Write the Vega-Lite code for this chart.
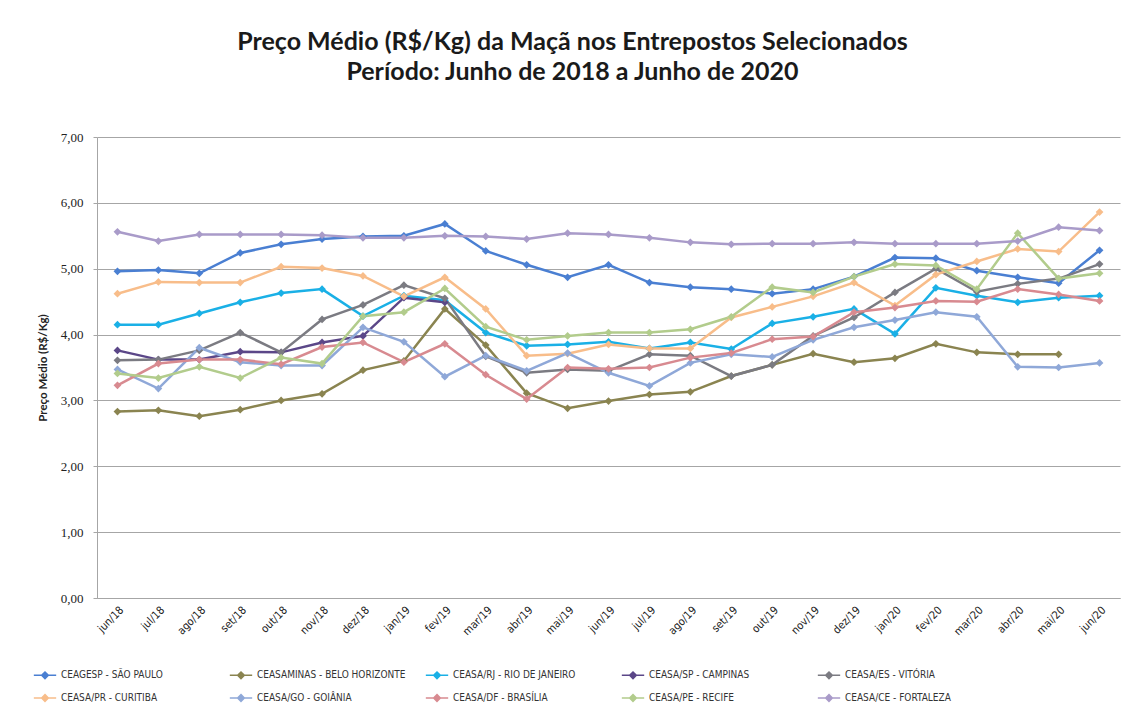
{
  "$schema": "https://vega.github.io/schema/vega-lite/v6.json",
  "width": 1023,
  "height": 461,
  "autosize": "none",
  "padding": {"left": 97, "top": 137, "right": 9, "bottom": 111},
  "background": "white",
  "title": {
    "text": ["Preço Médio (R$/Kg) da Maçã nos Entrepostos Selecionados", "Período: Junho de 2018 a Junho de 2020"],
    "font": "Lato",
    "fontSize": 25,
    "fontWeight": "bold",
    "color": "#1a1a1a",
    "lineHeight": 30,
    "anchor": "middle",
    "dx": -36,
    "offset": 46
  },
  "data": {
    "values": [
      {"m":"jun/18","SP":4.96,"BH":2.83,"RJ":4.15,"CP":3.76,"ES":3.61,"PR":4.62,"GO":3.47,"DF":3.23,"PE":3.41,"CE":5.56},
      {"m":"jul/18","SP":4.98,"BH":2.85,"RJ":4.15,"CP":3.62,"ES":3.62,"PR":4.80,"GO":3.18,"DF":3.56,"PE":3.34,"CE":5.42},
      {"m":"ago/18","SP":4.93,"BH":2.76,"RJ":4.32,"CP":3.62,"ES":3.76,"PR":4.79,"GO":3.80,"DF":3.62,"PE":3.51,"CE":5.52},
      {"m":"set/18","SP":5.24,"BH":2.86,"RJ":4.49,"CP":3.74,"ES":4.03,"PR":4.79,"GO":3.58,"DF":3.62,"PE":3.34,"CE":5.52},
      {"m":"out/18","SP":5.37,"BH":3.00,"RJ":4.63,"CP":3.73,"ES":3.73,"PR":5.03,"GO":3.53,"DF":3.55,"PE":3.65,"CE":5.52},
      {"m":"nov/18","SP":5.45,"BH":3.10,"RJ":4.69,"CP":3.88,"ES":4.23,"PR":5.01,"GO":3.53,"DF":3.81,"PE":3.56,"CE":5.51},
      {"m":"dez/18","SP":5.49,"BH":3.46,"RJ":4.28,"CP":3.98,"ES":4.45,"PR":4.89,"GO":4.11,"DF":3.88,"PE":4.28,"CE":5.47},
      {"m":"jan/19","SP":5.50,"BH":3.60,"RJ":4.59,"CP":4.56,"ES":4.75,"PR":4.58,"GO":3.89,"DF":3.58,"PE":4.34,"CE":5.47},
      {"m":"fev/19","SP":5.68,"BH":4.39,"RJ":4.52,"CP":4.49,"ES":4.55,"PR":4.87,"GO":3.36,"DF":3.86,"PE":4.70,"CE":5.50},
      {"m":"mar/19","SP":5.27,"BH":3.84,"RJ":4.03,"CP":null,"ES":3.67,"PR":4.39,"GO":3.68,"DF":3.39,"PE":4.12,"CE":5.49},
      {"m":"abr/19","SP":5.06,"BH":3.11,"RJ":3.83,"CP":null,"ES":3.42,"PR":3.68,"GO":3.45,"DF":3.02,"PE":3.92,"CE":5.45},
      {"m":"mai/19","SP":4.87,"BH":2.88,"RJ":3.85,"CP":null,"ES":3.47,"PR":3.71,"GO":3.72,"DF":3.50,"PE":3.98,"CE":5.54},
      {"m":"jun/19","SP":5.06,"BH":2.99,"RJ":3.89,"CP":null,"ES":3.45,"PR":3.85,"GO":3.42,"DF":3.48,"PE":4.03,"CE":5.52},
      {"m":"jul/19","SP":4.79,"BH":3.09,"RJ":3.79,"CP":null,"ES":3.70,"PR":3.79,"GO":3.22,"DF":3.50,"PE":4.03,"CE":5.47},
      {"m":"ago/19","SP":4.72,"BH":3.13,"RJ":3.88,"CP":null,"ES":3.68,"PR":3.79,"GO":3.57,"DF":3.65,"PE":4.08,"CE":5.40},
      {"m":"set/19","SP":4.69,"BH":3.37,"RJ":3.78,"CP":null,"ES":3.37,"PR":4.26,"GO":3.70,"DF":3.72,"PE":4.27,"CE":5.37},
      {"m":"out/19","SP":4.62,"BH":3.54,"RJ":4.17,"CP":null,"ES":3.54,"PR":4.42,"GO":3.66,"DF":3.93,"PE":4.72,"CE":5.38},
      {"m":"nov/19","SP":4.69,"BH":3.71,"RJ":4.27,"CP":null,"ES":3.98,"PR":4.58,"GO":3.92,"DF":3.97,"PE":4.64,"CE":5.38},
      {"m":"dez/19","SP":4.88,"BH":3.58,"RJ":4.39,"CP":null,"ES":4.26,"PR":4.79,"GO":4.11,"DF":4.34,"PE":4.88,"CE":5.40},
      {"m":"jan/20","SP":5.17,"BH":3.64,"RJ":4.01,"CP":null,"ES":4.64,"PR":4.44,"GO":4.22,"DF":4.41,"PE":5.07,"CE":5.38},
      {"m":"fev/20","SP":5.16,"BH":3.86,"RJ":4.71,"CP":null,"ES":5.00,"PR":4.91,"GO":4.34,"DF":4.51,"PE":5.05,"CE":5.38},
      {"m":"mar/20","SP":4.97,"BH":3.73,"RJ":4.59,"CP":null,"ES":4.65,"PR":5.11,"GO":4.27,"DF":4.50,"PE":4.69,"CE":5.38},
      {"m":"abr/20","SP":4.87,"BH":3.70,"RJ":4.49,"CP":null,"ES":4.77,"PR":5.30,"GO":3.51,"DF":4.69,"PE":5.54,"CE":5.42},
      {"m":"mai/20","SP":4.78,"BH":3.70,"RJ":4.56,"CP":null,"ES":4.85,"PR":5.26,"GO":3.50,"DF":4.61,"PE":4.85,"CE":5.63},
      {"m":"jun/20","SP":5.28,"BH":null,"RJ":4.59,"CP":null,"ES":5.07,"PR":5.86,"GO":3.57,"DF":4.51,"PE":4.93,"CE":5.58}
    ]
  },
  "transform": [
    {"fold": ["SP","BH","RJ","CP","ES","PR","GO","DF","PE","CE"], "as": ["s","v"]},
    {"filter": "datum.v != null"}
  ],
  "mark": {"type": "line", "strokeWidth": 2.5, "point": {"shape": "diamond", "size": 60, "filled": true}},
  "encoding": {
    "x": {
      "field": "m", "type": "ordinal", "sort": null,
      "scale": {"type": "point", "padding": 0.5},
      "axis": {
        "title": null, "labelAngle": -45, "labelFont": "DejaVu Sans Condensed, sans-serif",
        "labelFontSize": 11, "labelColor": "#222", "ticks": false, "labelPadding": 6,
        "domainColor": "#a6a6a6", "grid": false
      }
    },
    "y": {
      "field": "v", "type": "quantitative",
      "scale": {"domain": [0, 7], "nice": false},
      "axis": {
        "title": "Preço Médio (R$/Kg)", "titleFont": "Lato", "titleFontSize": 11.5, "titleFontWeight": "bold",
        "titleColor": "#222", "titlePadding": 12,
        "values": [0,1,2,3,4,5,6,7],
        "labelExpr": "replace(format(datum.value, '.2f'), '.', ',')",
        "labelFont": "Liberation Serif, serif", "labelFontSize": 13, "labelColor": "#222",
        "tickSize": 4, "tickColor": "#a6a6a6", "labelPadding": 10,
        "domainColor": "#a6a6a6", "gridColor": "#a6a6a6", "gridWidth": 1
      }
    },
    "color": {
      "field": "s", "type": "nominal",
      "scale": {
        "domain": ["SP","BH","RJ","CP","ES","PR","GO","DF","PE","CE"],
        "range": ["#4a7fd2","#8a8450","#1ab0e6","#5b4788","#7b7b82","#f8bd8a","#8fa8d8","#d88a90","#b2cc8c","#a99bc9"]
      },
      "legend": {
        "title": null, "orient": "none", "legendX": -64, "legendY": 526,
        "direction": "horizontal", "columns": 5, "gridAlign": "all", "columnPadding": 16, "rowPadding": 4,
        "labelFont": "DejaVu Sans Condensed, sans-serif", "labelFontSize": 10, "labelColor": "#333",
        "symbolType": "M-1,0H1M0,-0.3L0.3,0L0,0.3L-0.3,0Z", "symbolSize": 500, "symbolStrokeWidth": 1.5,
        "labelExpr": "({'SP':'CEAGESP - SÃO PAULO','BH':'CEASAMINAS - BELO HORIZONTE','RJ':'CEASA/RJ - RIO DE JANEIRO','CP':'CEASA/SP - CAMPINAS','ES':'CEASA/ES - VITÓRIA','PR':'CEASA/PR - CURITIBA','GO':'CEASA/GO - GOIÂNIA','DF':'CEASA/DF - BRASÍLIA','PE':'CEASA/PE - RECIFE','CE':'CEASA/CE - FORTALEZA'})[datum.label]"
      }
    }
  },
  "config": {"view": {"stroke": null}}
}
